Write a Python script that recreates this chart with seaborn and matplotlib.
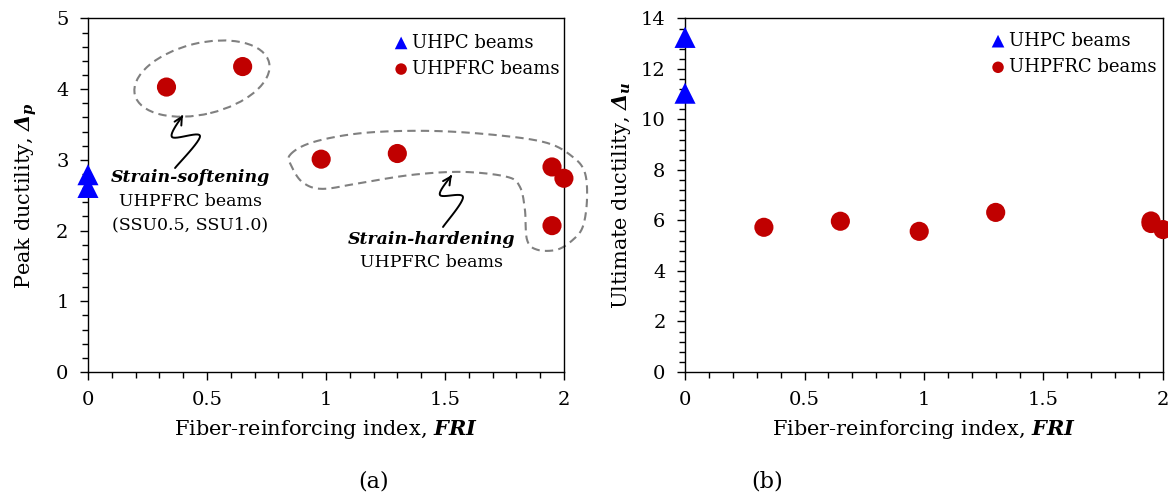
import matplotlib.pyplot as plt
import seaborn as sns
import pandas as pd
import numpy as np
from matplotlib.patches import Ellipse, FancyArrowPatch
from matplotlib.path import Path
from matplotlib.ticker import MultipleLocator, FuncFormatter
from matplotlib.transforms import ScaledTranslation

# Datos
uhpc_fri = [0.0, 0.0]
uhpc_peak = [2.79, 2.61]
uhpc_ult = [13.25, 11.04]

uhpfrc_fri = [0.33, 0.65, 0.98, 1.30, 1.95, 2.00, 1.95]
uhpfrc_peak = [4.03, 4.32, 3.01, 3.09, 2.90, 2.74, 2.07]
uhpfrc_ult = [5.73, 5.97, 5.57, 6.32, 5.98, 5.64, 5.88]

# Contornos de anotación (coordenadas de datos, panel a)
hard_x = [0.849, 0.945, 1.155, 1.437, 1.718, 1.929, 2.038, 2.088, 2.097, 2.080, 2.038,
          1.971, 1.887, 1.845, 1.836, 1.815, 1.761, 1.576, 1.366, 1.155, 0.987, 0.903, 0.857]
hard_y = [3.07, 3.25, 3.38, 3.41, 3.35, 3.24, 3.04, 2.82, 2.44, 2.06, 1.87,
          1.73, 1.73, 1.87, 2.30, 2.62, 2.76, 2.83, 2.79, 2.68, 2.59, 2.68, 2.90]

soft_arrow = [(0.366, 2.885), (0.471, 3.338), (0.353, 3.324), (0.399, 3.635)]
hard_arrow = [(1.492, 2.051), (1.576, 2.475), (1.479, 2.504), (1.529, 2.786)]

BLUE = '#0000FF'
RED = '#C00000'
GRAY = '#808080'

sns.set_theme(style="ticks", rc={'text.color': 'black', 'axes.labelcolor': 'black',
                                 'xtick.color': 'black', 'ytick.color': 'black'})
plt.rcParams['font.family'] = ['DejaVu Serif']
plt.rcParams['mathtext.fontset'] = 'custom'
plt.rcParams['mathtext.rm'] = 'DejaVu Serif:italic:bold'
plt.rcParams['mathtext.it'] = 'DejaVu Serif:italic:bold'
plt.rcParams['mathtext.bf'] = 'DejaVu Serif:bold'


def catmull(pts, closed=False, n=16):
    pts = np.asarray(pts, dtype=float)
    if closed:
        ext = np.vstack([pts[-1:], pts, pts[:2]])
    else:
        ext = np.vstack([pts[:1], pts, pts[-1:]])
    out = []
    segs = len(pts) if closed else len(pts) - 1
    t = np.linspace(0, 1, n, endpoint=False)[:, None]
    for i in range(segs):
        p0, p1, p2, p3 = ext[i], ext[i + 1], ext[i + 2], ext[i + 3]
        out.append(0.5 * (2 * p1 + (-p0 + p2) * t + (2 * p0 - 5 * p1 + 4 * p2 - p3) * t ** 2
                          + (-p0 + 3 * p1 - 3 * p2 + p3) * t ** 3))
    out = np.vstack(out)
    end = out[:1] if closed else pts[-1:]
    return np.vstack([out, end])


def style_axes(ax, ymax, ymajor, ylabel, ylab_x):
    ax.set_xlim(0, 2)
    ax.set_ylim(0, ymax)
    ax.xaxis.set_major_locator(MultipleLocator(0.5))
    ax.xaxis.set_minor_locator(MultipleLocator(0.1))
    ax.yaxis.set_major_locator(MultipleLocator(ymajor))
    ax.yaxis.set_minor_locator(MultipleLocator(ymajor / 5))
    ax.xaxis.set_major_formatter(FuncFormatter(lambda v, p: f"{v:g}"))
    ax.yaxis.set_major_formatter(FuncFormatter(lambda v, p: f"{v:g}"))
    ax.tick_params(which='both', direction='out', color='black', labelsize=14, width=1)
    ax.tick_params(which='major', length=6, pad=8)
    ax.tick_params(which='minor', length=4)
    for s in ax.spines.values():
        s.set_visible(True)
        s.set_color('black')
        s.set_linewidth(1.0)
    ax.set_xlabel(r"Fiber-reinforcing index, $\mathit{FRI}$", fontsize=15, labelpad=6)
    ax.set_ylabel(ylabel, fontsize=15)
    ax.yaxis.set_label_coords(ylab_x, 0.5)


def draw_points(ax, uhpc_y, uhpfrc_y):
    sns.scatterplot(x=uhpc_fri, y=uhpc_y, ax=ax, marker='^', s=230, color=BLUE,
                    edgecolor='none', clip_on=False, zorder=5, label='UHPC beams')
    sns.scatterplot(x=uhpfrc_fri, y=uhpfrc_y, ax=ax, marker='o', s=190, color=RED,
                    edgecolor='none', clip_on=False, zorder=5, label='UHPFRC beams')


fig = plt.figure(figsize=(11.68, 4.94), dpi=100)
ax1 = fig.add_axes([0.0753, 0.247, 0.4075, 0.7156])
ax2 = fig.add_axes([0.5865, 0.247, 0.4092, 0.7156])

# (a) ductilidad pico
draw_points(ax1, uhpc_peak, uhpfrc_peak)
style_axes(ax1, 5, 1, r"Peak ductility, $\Delta_p$", -0.103)
ax1.legend(loc='upper left', bbox_to_anchor=(0.639, 0.957), frameon=False, fontsize=13,
           markerscale=0.6, handletextpad=0.1, handlelength=1.0, borderpad=0,
           borderaxespad=0, labelspacing=0.45)

trans = fig.dpi_scale_trans + ScaledTranslation(0.479, 4.15, ax1.transData)
ax1.add_patch(Ellipse((0, 0), 1.38, 0.71, angle=13.6, transform=trans, fill=False,
                      edgecolor=GRAY, lw=1.5, ls=(0, (4, 2.5)), clip_on=False))
outline = catmull(list(zip(hard_x, hard_y)), closed=True)
ax1.plot(outline[:, 0], outline[:, 1], color=GRAY, lw=1.5, ls=(0, (4, 2.5)), clip_on=False)

for arr in (soft_arrow, hard_arrow):
    pts = catmull(arr, closed=False, n=12)
    ax1.add_patch(FancyArrowPatch(path=Path(pts), arrowstyle='->', mutation_scale=14,
                                  lw=1.4, color='black', clip_on=False))

ax1.text(0.43, 2.75, "Strain-softening", ha='center', va='center', fontsize=12.5,
         fontweight='bold', fontstyle='italic')
ax1.text(0.43, 2.41, "UHPFRC beams", ha='center', va='center', fontsize=12.5)
ax1.text(0.43, 2.08, "(SSU0.5, SSU1.0)", ha='center', va='center', fontsize=12.5)
ax1.text(1.445, 1.87, "Strain-hardening", ha='center', va='center', fontsize=12.5,
         fontweight='bold', fontstyle='italic')
ax1.text(1.445, 1.55, "UHPFRC beams", ha='center', va='center', fontsize=12.5)

# (b) ductilidad última
draw_points(ax2, uhpc_ult, uhpfrc_ult)
style_axes(ax2, 14, 2, r"Ultimate ductility, $\Delta_u$", -0.109)
ax2.legend(loc='upper left', bbox_to_anchor=(0.636, 0.962), frameon=False, fontsize=13,
           markerscale=0.6, handletextpad=0.1, handlelength=1.0, borderpad=0,
           borderaxespad=0, labelspacing=0.45)

fig.text(374 / 1168, 1 - 481 / 494, "(a)", ha='center', va='center', fontsize=16)
fig.text(767 / 1168, 1 - 481 / 494, "(b)", ha='center', va='center', fontsize=16)

fig.savefig("out.png", dpi=100)
plt.close(fig)
